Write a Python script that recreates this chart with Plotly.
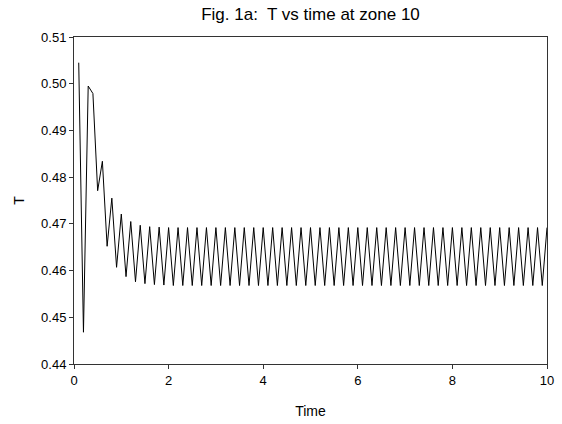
import plotly.graph_objects as go

# Time samples (dt = 0.1) and T values
time = [round(0.1 * i, 1) for i in range(1, 101)]
t_start = [0.5045, 0.4468, 0.4995, 0.4979, 0.4771, 0.4834, 0.4652, 0.4755,
           0.4607, 0.4721, 0.4587, 0.4705, 0.4576, 0.4697, 0.4572, 0.4694,
           0.4570, 0.4693, 0.4569, 0.4692]
t_low = 0.4568
t_high = 0.4692
T = t_start + [t_low if k % 2 == 0 else t_high for k in range(100 - len(t_start))]

x_ticks = [0, 2, 4, 6, 8, 10]
y_ticks = [0.44, 0.45, 0.46, 0.47, 0.48, 0.49, 0.50, 0.51]

fig = go.Figure()
fig.add_trace(go.Scatter(x=time, y=T, mode="lines",
                         line=dict(color="black", width=1), showlegend=False))

axis_common = dict(showgrid=False, zeroline=False, showline=True, linecolor="#333",
                   linewidth=1, mirror=True, ticks="outside", ticklen=4,
                   tickcolor="#333", tickfont=dict(size=13, color="black"))

fig.update_layout(
    width=562, height=424,
    margin=dict(l=74, r=8, t=37, b=55),
    paper_bgcolor="white", plot_bgcolor="white",
    font=dict(family="Liberation Sans, Arial, sans-serif", color="black"),
    title=dict(text="Fig. 1a:  T vs time at zone 10", x=0.5, xref="paper",
               xanchor="center", y=1 - 14.5 / 424, yanchor="middle",
               font=dict(size=17)),
    xaxis=dict(range=[0, 10], tickvals=x_ticks, ticktext=[str(v) for v in x_ticks],
               title=dict(text="Time", font=dict(size=14), standoff=19), **axis_common),
    yaxis=dict(range=[0.44, 0.51], tickvals=y_ticks,
               ticktext=[f"{v:.2f}" for v in y_ticks],
               title=dict(text="T", font=dict(size=14), standoff=13), **axis_common),
)

fig.write_html("out.html")
